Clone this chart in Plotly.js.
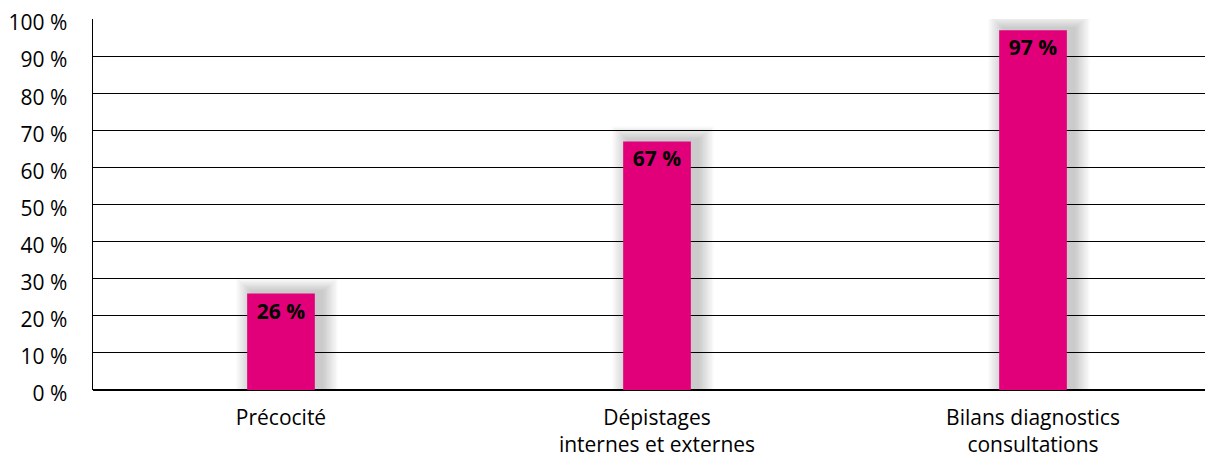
<!DOCTYPE html>
<html><head><meta charset="utf-8">
<script src="https://cdn.plot.ly/plotly-3.0.1.min.js"></script>
<style>html,body{margin:0;padding:0;background:#fff}#c{width:1205px;height:457px}</style>
</head><body><div id="c"></div>
<script>
const categories = ["Précocité", "Dépistages<br>internes et externes", "Bilans diagnostics<br>consultations"];
const values = [26, 67, 97];
const labels = ["26 %", "67 %", "97 %"];
const yTicks = [0,10,20,30,40,50,60,70,80,90,100];

const FONT = "'Open Sans', sans-serif";
const xIdx = categories.map((c,i)=>i);

const traces = [];
// soft shadow layers (blur approximation)
const nLayers = 9;
for (let k = 0; k < nLayers; k++) {
  const t = (nLayers - k) / nLayers; // 1 -> outermost
  traces.push({
    type:'bar', x:xIdx.map(i=>i+0.016), y:values.map(v=>v+0.4+3.6*t), width:0.185+0.085*t,
    marker:{color:'rgba(0,0,0,0.022)', line:{width:0}}, hoverinfo:'skip', showlegend:false
  });
}
traces.push({
  type:'bar', x:xIdx, y:values, width:0.18,
  marker:{color:'#e2007a', line:{width:0}},
  text:labels, textposition:'inside', insidetextanchor:'end', constraintext:'none',
  textfont:{family:FONT, size:21, color:'#000', weight:'bold'},
  showlegend:false
});

Plotly.newPlot('c', traces, {
  width:1205, height:457,
  margin:{l:93, r:0, t:19, b:67},
  barmode:'overlay',
  paper_bgcolor:'#fff', plot_bgcolor:'#fff',
  font:{family:FONT, color:'#000'},
  xaxis:{
    range:[-0.5, 2.4574], tickmode:'array', tickvals:xIdx, ticktext:categories,
    showgrid:false, zeroline:false, showline:false, ticks:'', ticklabelstandoff:13,
    tickfont:{size:21, family:FONT}, fixedrange:true
  },
  yaxis:{
    range:[0,100], tickmode:'array', tickvals:yTicks, ticktext:yTicks.map(v=>v+' %'),
    showgrid:true, gridcolor:'#000', gridwidth:1.2,
    zeroline:true, zerolinecolor:'#000', zerolinewidth:1.5,
    showline:true, linecolor:'#000', linewidth:1.5, ticks:'', ticklabelstandoff:20, ticklabelshift:4,
    tickfont:{size:21, family:FONT}
  }
}, {staticPlot:true});
</script></body></html>
